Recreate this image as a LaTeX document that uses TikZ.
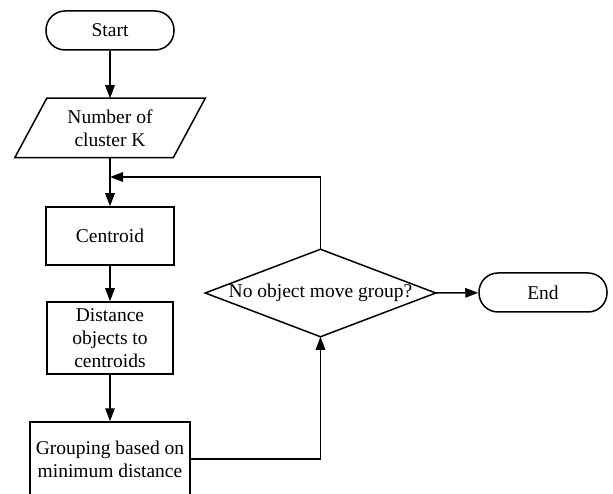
\documentclass[tikz,border=0pt]{standalone}
\usepackage{fontspec}
\setmainfont{Liberation Serif}
\usetikzlibrary{arrows.meta}
\tikzset{
  base/.style={font=\fontsize{19.5}{23}\selectfont, inner sep=0pt, align=center},
  term/.style={base, draw, rounded corners=19pt, minimum width=128pt, minimum height=39pt},
  proc/.style={base, draw},
  arr/.style={-{Triangle[length=13pt,width=9.5pt]}},
}
\begin{document}
\begin{tikzpicture}[x=1pt, y=-1pt, line width=1.5pt]
\clip (0,0) rectangle (613,494);
\fill[white] (0,0) rectangle (613,494);
\node[term] (start) at (110,30.5) {Start};
\node[base, minimum width=157pt, minimum height=58pt] (input) at (110,128) {Number of\\cluster K};
\draw ([xshift=16pt]input.north west) -- ([xshift=16pt]input.north east)
   -- ([xshift=-16pt]input.south east) -- ([xshift=-16pt]input.south west) -- cycle;
\node[proc, minimum width=128pt, minimum height=58pt] (cent) at (110,236) {Centroid};
\node[proc, minimum width=126pt, minimum height=72pt] (dist) at (110,338) {Distance\\objects to\\centroids};
\node[proc, minimum width=160pt, minimum height=74pt] (group) at (110,459) {Grouping based on\\minimum distance};
\node[base, minimum width=229pt, minimum height=86pt] (dec) at (320.5,293) {No object move group?};
\draw (dec.north) -- (dec.east) -- (dec.south) -- (dec.west) -- cycle;
\node[term] (stop) at (543,292.5) {End};
\coordinate (join) at (110,177);
\draw[arr] (start) -- (input);
\draw[arr] (input) -- (cent);
\draw[arr] (dec.north) |- (join);
\draw[arr] (cent) -- (dist);
\draw[arr] (dist) -- (group);
\draw[arr] (group.east) -| (dec.south);
\draw[arr] (dec.east) -- (stop);
\end{tikzpicture}
\end{document}
